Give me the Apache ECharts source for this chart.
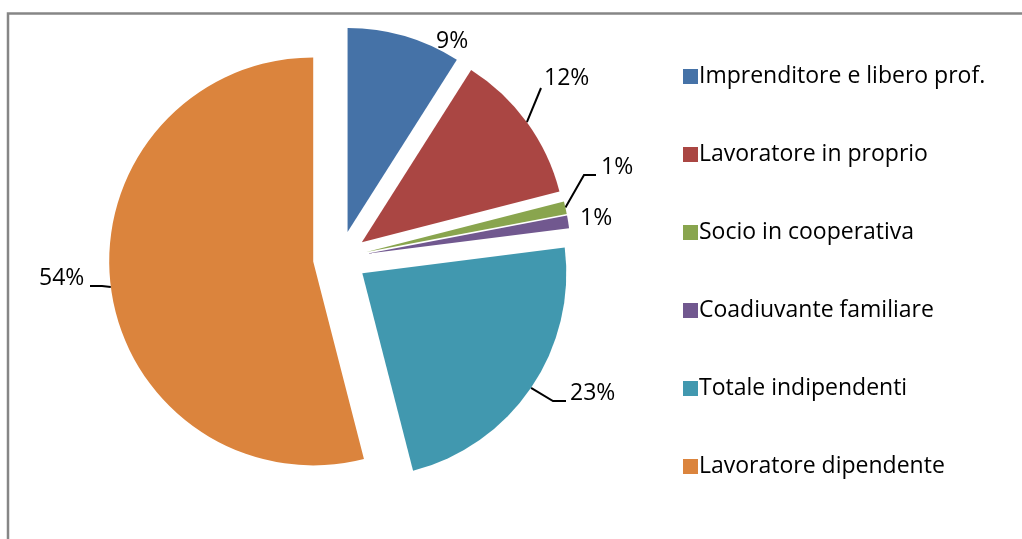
<!DOCTYPE html>
<html>
<head>
<meta charset="utf-8">
<script src="https://cdn.jsdelivr.net/npm/echarts@6/dist/echarts.min.js"></script>
<style>
  html, body { margin: 0; padding: 0; background: #ffffff; }
  #chart { width: 1022px; height: 539px; }
</style>
</head>
<body>
<div id="chart"></div>
<script>
// Composizione degli occupati per posizione professionale (%)
const categories = [
  'Imprenditore e libero prof.',
  'Lavoratore in proprio',
  'Socio in cooperativa',
  'Coadiuvante familiare',
  'Totale indipendenti',
  'Lavoratore dipendente'
];
const values = [9, 12, 1, 1, 23, 54];
const colors = ['#4572A7', '#AA4643', '#89A54E', '#71588F', '#4198AF', '#DB843D'];

const FONT = '"Open Sans", Lato, sans-serif';
const PIE_CENTER = [340, 258];
const PIE_RADIUS = 204;
const EXPLODE = 27;

// Placement of each percentage label: text anchor (left edge, vertical middle)
// and the bend / end points of its leader line (null = no leader line).
const labelPlacement = [
  { x: 436, y: 41, bend: null, end: null },
  { x: 544, y: 78, bend: [541, 88], end: [541, 88] },
  { x: 601, y: 167, bend: [584, 175], end: [596, 175] },
  { x: 580, y: 218, bend: null, end: null },
  { x: 570, y: 393, bend: [553, 401], end: [566, 401] },
  { x: 39, y: 278, bend: [102, 286], end: [90, 286] }
];

const chart = echarts.init(document.getElementById('chart'), null, { renderer: 'canvas' });

// Exploded, coloured slices.
const sliceData = categories.map((name, i) => ({
  name: name,
  value: values[i],
  selected: true,
  itemStyle: { color: colors[i] }
}));

// Invisible twin pie whose outer rim sits on the exploded arcs; it carries the labels.
const labelData = categories.map((name, i) => ({
  name: name,
  value: values[i],
  labelLine: { show: labelPlacement[i].bend !== null }
}));

chart.setOption({
  animation: false,
  backgroundColor: '#ffffff',
  graphic: [{
    type: 'rect',
    shape: { x: 8, y: 13.5, width: 1200, height: 700 },
    style: { fill: 'none', stroke: '#868686', lineWidth: 2.5 },
    silent: true
  }],
  legend: {
    orient: 'vertical',
    left: 678,
    top: 60,
    itemWidth: 15,
    itemHeight: 15,
    itemGap: 55,
    icon: 'rect',
    selectedMode: false,
    textStyle: { fontFamily: FONT, fontSize: 23, color: '#000000', padding: [0, 0, 0, -4] },
    data: categories
  },
  series: [{
    type: 'pie',
    center: PIE_CENTER,
    radius: PIE_RADIUS,
    startAngle: 90,
    clockwise: true,
    selectedMode: 'multiple',
    selectedOffset: EXPLODE,
    emphasis: { disabled: true },
    label: { show: false },
    labelLine: { show: false },
    data: sliceData
  }, {
    type: 'pie',
    center: PIE_CENTER,
    radius: PIE_RADIUS + EXPLODE,
    startAngle: 90,
    clockwise: true,
    silent: true,
    avoidLabelOverlap: false,
    emphasis: { disabled: true },
    itemStyle: { color: 'rgba(0,0,0,0)' },
    label: {
      show: true,
      position: 'outside',
      formatter: '{d}%',
      fontFamily: FONT,
      fontSize: 23,
      color: '#000000'
    },
    labelLine: {
      show: true,
      length: 10,
      length2: 12,
      lineStyle: { color: '#000000', width: 2 }
    },
    labelLayout: function (params) {
      const p = labelPlacement[params.dataIndex];
      const out = { x: p.x, y: p.y, align: 'left', verticalAlign: 'middle', hideOverlap: false };
      if (p.bend && params.labelLinePoints) {
        out.labelLinePoints = [params.labelLinePoints[0], p.bend, p.end];
      }
      return out;
    },
    data: labelData
  }]
});
</script>
</body>
</html>
